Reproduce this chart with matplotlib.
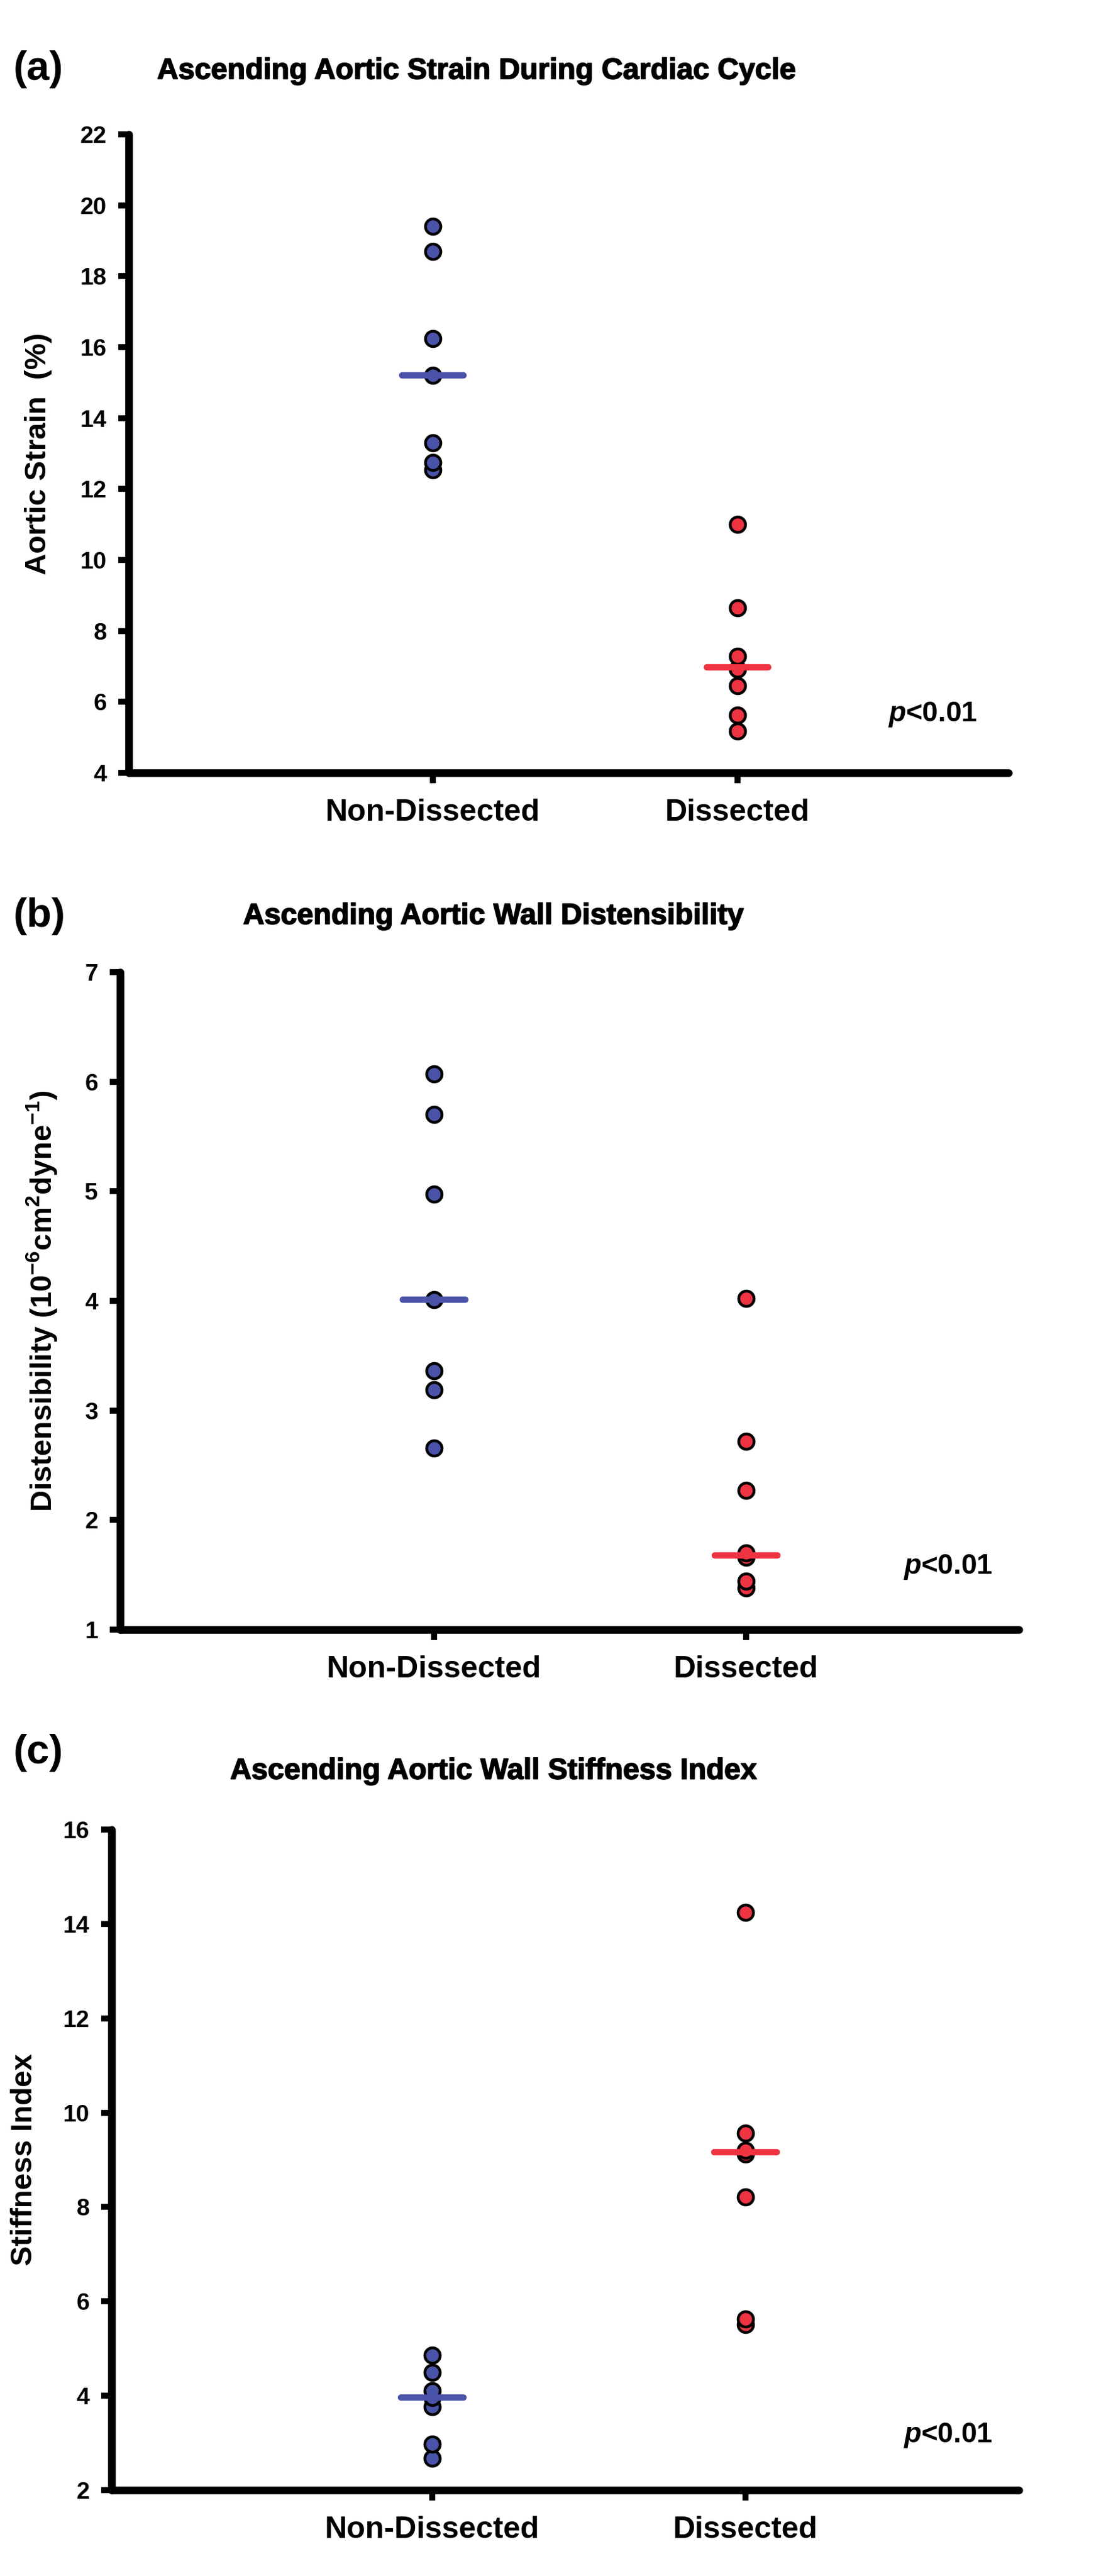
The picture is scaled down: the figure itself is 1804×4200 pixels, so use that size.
import matplotlib
matplotlib.use("Agg")
import matplotlib.pyplot as plt
from matplotlib import font_manager
import matplotlib.patheffects as pe

plt.rcParams['font.family'] = ['Liberation Sans', 'DejaVu Sans']
plt.rcParams['font.weight'] = 'bold'
plt.rcParams['mathtext.fontset'] = 'custom'
plt.rcParams['mathtext.rm'] = 'Liberation Sans:bold'
plt.rcParams['mathtext.bf'] = 'Liberation Sans:bold'
plt.rcParams['mathtext.it'] = 'Liberation Sans:italic:bold'
plt.rcParams['mathtext.default'] = 'bf'

_names = {f.name for f in font_manager.fontManager.ttflist}
if 'Liberation Sans Narrow' in _names:
    TITLE_FAMILY, TITLE_SIZE = ['Liberation Sans Narrow', 'DejaVu Sans'], 40
else:
    TITLE_FAMILY, TITLE_SIZE = ['Liberation Sans', 'DejaVu Sans'], 34.5

# ---------------- data ----------------
groups = ["Non-Dissected", "Dissected"]

strain_non = [19.4, 18.7, 16.25, 15.2, 13.3, 12.75, 12.55]
strain_dis = [11.0, 8.65, 7.28, 6.92, 6.45, 5.62, 5.18]
strain_median = [15.2, 6.97]

dist_non = [6.07, 5.70, 4.975, 4.01, 3.36, 3.19, 2.655]
dist_dis = [4.02, 2.72, 2.27, 1.70, 1.66, 1.44, 1.38]
dist_median = [4.01, 1.68]

stiff_non = [4.86, 4.50, 4.10, 3.96, 3.77, 2.97, 2.67]
stiff_dis = [14.25, 9.56, 9.20, 9.12, 8.22, 5.63, 5.51]
stiff_median = [3.96, 9.16]

strain_ticks = [4, 6, 8, 10, 12, 14, 16, 18, 20, 22]
dist_ticks = [1, 2, 3, 4, 5, 6, 7]
stiff_ticks = [2, 4, 6, 8, 10, 12, 14, 16]

titles = ["Ascending Aortic Strain During Cardiac Cycle",
          "Ascending Aortic Wall Distensibility",
          "Ascending Aortic Wall Stiffness Index"]
panel_labels = ["(a)", "(b)", "(c)"]
ylabels = ["Aortic Strain  (%)",
           "Distensibility (10$^{-6}$cm$^{2}$dyne$^{-1}$)",
           "Stiffness Index"]
p_text = "$\\mathit{p}$<0.01"

BLUE = '#4A53A8'
RED = '#EE3342'

W, H = 1804, 4200
fig = plt.figure(figsize=(W / 100, H / 100), dpi=100)

# pixel layout: axis left, axis right end, top, bottom, group centres
rects = [(210, 1645, 219, 1260, 706, 1203),
         (196, 1662, 1585, 2657, 708, 1217),
         (182, 1662, 2983, 4060, 705, 1216)]
title_x = [777, 805, 805]
title_y = [116, 1494, 2888]
label_y = [113, 1494, 2858]
ylabel_x = [63, 68, 40]
p_px = [(1448, 1165), (1473, 2555), (1473, 3971)]

panels = [(strain_non, strain_dis, strain_median, strain_ticks),
          (dist_non, dist_dis, dist_median, dist_ticks),
          (stiff_non, stiff_dis, stiff_median, stiff_ticks)]

for i, (non, dis, med, ticks) in enumerate(panels):
    l, r, t, b, g1, g2 = rects[i]
    unit = g2 - g1
    ax = fig.add_axes([l / W, 1 - b / H, (r - l) / W, (b - t) / H])
    ax.set_xlim(1 - (g1 - l) / unit, 2 + (r - g2) / unit)
    ax.set_ylim(ticks[0], ticks[-1])
    for sp in ['top', 'right']:
        ax.spines[sp].set_visible(False)
    for sp in ['left', 'bottom']:
        ax.spines[sp].set_linewidth(9)
        ax.spines[sp].set_capstyle('round')
    ax.set_yticks(ticks)
    ax.set_yticklabels([str(v) for v in ticks])
    ax.set_xticks([1, 2])
    ax.set_xticklabels(groups)
    ax.tick_params(axis='y', length=12, width=7, pad=14, labelsize=28)
    ax.tick_params(axis='x', length=12, width=7, pad=18, labelsize=36)
    for tl in ax.get_yticklines() + ax.get_xticklines():
        tl.set_solid_capstyle('round')
    for tl in ax.get_xticklabels() + ax.get_yticklabels():
        tl.set_fontweight('bold')

    for xpos, vals, col in [(1, non, BLUE), (2, dis, RED)]:
        svals = sorted(vals)
        ax.plot([xpos] * len(svals), svals, linestyle='none', marker='o',
                markersize=18, markerfacecolor=col, markeredgecolor='black',
                markeredgewidth=3.3, clip_on=False, zorder=3)
    for xpos, m, col in [(1, med[0], BLUE), (2, med[1], RED)]:
        ax.plot([xpos - 0.1, xpos + 0.1], [m, m], color=col, linewidth=7.5,
                solid_capstyle='round', zorder=4, clip_on=False)

    px, py = p_px[i]
    fig.text(px / W, 1 - py / H, p_text, fontsize=33, fontweight='bold',
             ha='left', va='center')

    fig.text(title_x[i] / W, 1 - title_y[i] / H, titles[i], fontsize=TITLE_SIZE,
             fontweight='bold', ha='center', va='center', family=TITLE_FAMILY,
             path_effects=[pe.withStroke(linewidth=1.2, foreground='black')])
    fig.text(22 / W, 1 - label_y[i] / H, panel_labels[i], fontsize=48,
             fontweight='bold', ha='left', va='center')
    fig.text(ylabel_x[i] / W, 1 - (t + b) / 2 / H, ylabels[i], fontsize=35,
             fontweight='bold', ha='center', va='center', rotation=90)

fig.savefig('out.png', dpi=100, facecolor='white')
